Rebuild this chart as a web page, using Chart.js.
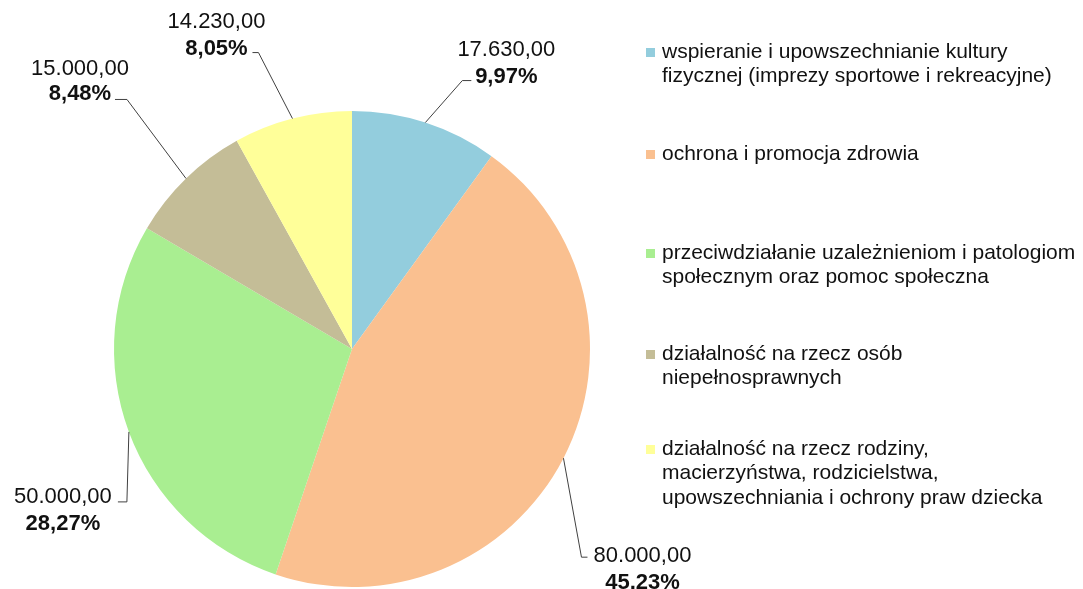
<!DOCTYPE html>
<html>
<head>
<meta charset="utf-8">
<script src="https://cdn.jsdelivr.net/npm/chart.js@4"></script>
<style>
  body { margin: 0; background: #fff; }
  #wrap { width: 1083px; height: 589px; position: relative; }
</style>
</head>
<body>
<div id="wrap"><canvas id="pie"></canvas></div>
<script>
const categories = [
  ['wspieranie i upowszechnianie kultury', 'fizycznej (imprezy sportowe i rekreacyjne)'],
  ['ochrona i promocja zdrowia'],
  ['przeciwdziałanie uzależnieniom i patologiom', 'społecznym oraz pomoc społeczna'],
  ['działalność na rzecz osób', 'niepełnosprawnych'],
  ['działalność na rzecz rodziny,', 'macierzyństwa, rodzicielstwa,', 'upowszechniania i ochrony praw dziecka']
];
const amounts = [17630, 80000, 50000, 15000, 14230];
const colors = ['#93CDDD', '#FAC090', '#A9EE91', '#C4BD97', '#FFFF99'];

// leader line layout per slice: elbow offset from arc edge, horizontal end, text offsets
const leaders = [
  { ex: 37, ey: -42, hx: 9, tx: 35, vy: -25, py: 2 },
  { ex: 18, ey: 99, hx: 6, tx: 55, vy: 5, py: 32 },
  { ex: -2, ey: 70, hx: -9, tx: -55, vy: 1, py: 28 },
  { ex: -59, ey: -79, hx: -12, tx: -35, vy: -24, py: 1 },
  { ex: -34, ey: -66, hx: -6, tx: -36, vy: -25, py: 2 }
];
const legendY = [52, 154, 253, 354, 449];

function fmtMoney(v) {
  const parts = v.toFixed(2).split('.');
  return parts[0].replace(/\B(?=(\d{3})+(?!\d))/g, '.') + ',' + parts[1];
}

const FONT = '"Liberation Sans", Arial, sans-serif';

const labelPlugin = {
  id: 'labels',
  afterDatasetsDraw(chart) {
    const ctx = chart.ctx;
    const meta = chart.getDatasetMeta(0);
    const total = amounts.reduce((a, b) => a + b, 0);
    ctx.save();
    meta.data.forEach((arc, i) => {
      const mid = (arc.startAngle + arc.endAngle) / 2;
      const ax = arc.x + Math.cos(mid) * arc.outerRadius;
      const ay = arc.y + Math.sin(mid) * arc.outerRadius;
      const L = leaders[i];
      const bx = ax + L.ex, by = ay + L.ey;
      const cx = bx + L.hx;
      ctx.strokeStyle = '#404040';
      ctx.lineWidth = 1;
      ctx.beginPath();
      ctx.moveTo(ax, ay);
      ctx.lineTo(bx, by);
      ctx.lineTo(cx, by);
      ctx.stroke();
      ctx.fillStyle = '#111';
      ctx.textAlign = 'center';
      ctx.textBaseline = 'alphabetic';
      ctx.font = '22px ' + FONT;
      ctx.fillText(fmtMoney(amounts[i]), cx + L.tx, by + L.vy);
      ctx.font = 'bold 22px ' + FONT;
      const pct = (amounts[i] / total * 100).toFixed(2).replace('.', ',') + '%';
      ctx.fillText(pct, cx + L.tx, by + L.py);
    });

    // legend
    ctx.textAlign = 'left';
    ctx.textBaseline = 'middle';
    ctx.font = '21px ' + FONT;
    categories.forEach((lines, i) => {
      const y0 = legendY[i];
      ctx.fillStyle = colors[i];
      ctx.fillRect(646, y0 - 4, 9, 9);
      ctx.fillStyle = '#111';
      lines.forEach((t, j) => ctx.fillText(t, 662, y0 + j * 24.5));
    });
    ctx.restore();
  }
};

new Chart(document.getElementById('pie'), {
  type: 'pie',
  data: {
    labels: categories.map(l => l.join(' ')),
    datasets: [{
      data: amounts,
      backgroundColor: colors,
      borderWidth: 0
    }]
  },
  options: {
    responsive: true,
    maintainAspectRatio: false,
    animation: false,
    layout: { padding: { left: 114, right: 493, top: 111, bottom: 2 } },
    plugins: {
      legend: { display: false },
      tooltip: { enabled: false }
    }
  },
  plugins: [labelPlugin]
});
</script>
</body>
</html>
